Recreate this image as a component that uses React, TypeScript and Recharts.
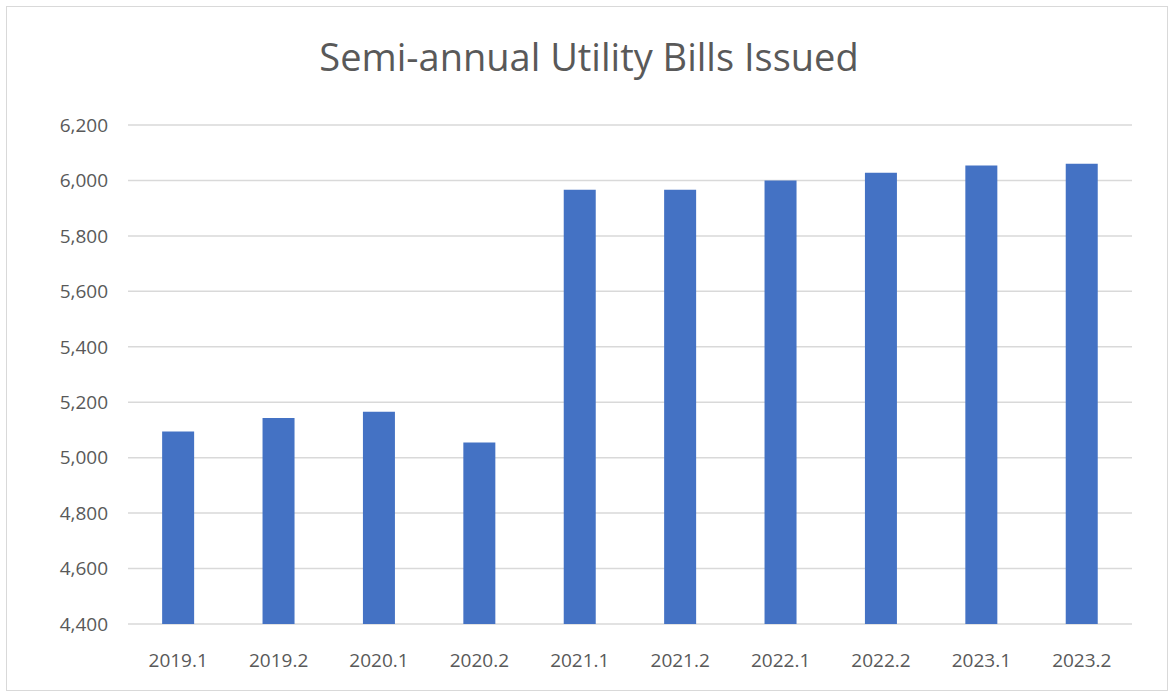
import { BarChart, Bar, XAxis, YAxis, CartesianGrid } from "recharts";

const periods = [
  "2019.1",
  "2019.2",
  "2020.1",
  "2020.2",
  "2021.1",
  "2021.2",
  "2022.1",
  "2022.2",
  "2023.1",
  "2023.2",
];
const billsIssued = [5094, 5143, 5166, 5055, 5966, 5966, 6000, 6028, 6054, 6060];
const yTicks = [4400, 4600, 4800, 5000, 5200, 5400, 5600, 5800, 6000, 6200];

const data = periods.map((name, i) => ({ name, value: billsIssued[i] }));

const TEXT = "#595959";
const FONT = "'Open Sans', sans-serif";

export default function App() {
  return (
    <div
      style={{
        position: "absolute",
        left: 0,
        top: 0,
        width: 1172,
        height: 694,
        background: "#fff",
        fontFamily: FONT,
      }}
    >
      <div
        style={{
          position: "absolute",
          left: 6,
          top: 6,
          width: 1160,
          height: 683,
          border: "1px solid #d9d9d9",
        }}
      />
      <div
        style={{
          position: "absolute",
          left: 0,
          top: 30,
          width: 1178,
          textAlign: "center",
          fontSize: 38,
          color: TEXT,
        }}
      >
        Semi-annual Utility Bills Issued
      </div>
      <BarChart
        width={1172}
        height={694}
        data={data}
        margin={{ top: 125, right: 40, left: 28, bottom: 30 }}
        barCategoryGap="34%"
        style={{ position: "absolute", left: 0, top: 0 }}
      >
        <CartesianGrid vertical={false} stroke="#d9d9d9" strokeWidth={1.5} />
        <XAxis
          dataKey="name"
          axisLine={false}
          tickLine={false}
          height={40}
          tickMargin={24}
          tick={{ fontSize: 19, fill: TEXT, fontFamily: FONT }}
        />
        <YAxis
          domain={[4400, 6200]}
          ticks={yTicks}
          allowDataOverflow
          width={100}
          axisLine={false}
          tickLine={false}
          tickMargin={14}
          tickFormatter={(v: number) => v.toLocaleString("en-US")}
          tick={{ fontSize: 19, fill: TEXT, fontFamily: FONT }}
        />
        <Bar dataKey="value" fill="#4472C4" isAnimationActive={false} />
      </BarChart>
    </div>
  );
}
